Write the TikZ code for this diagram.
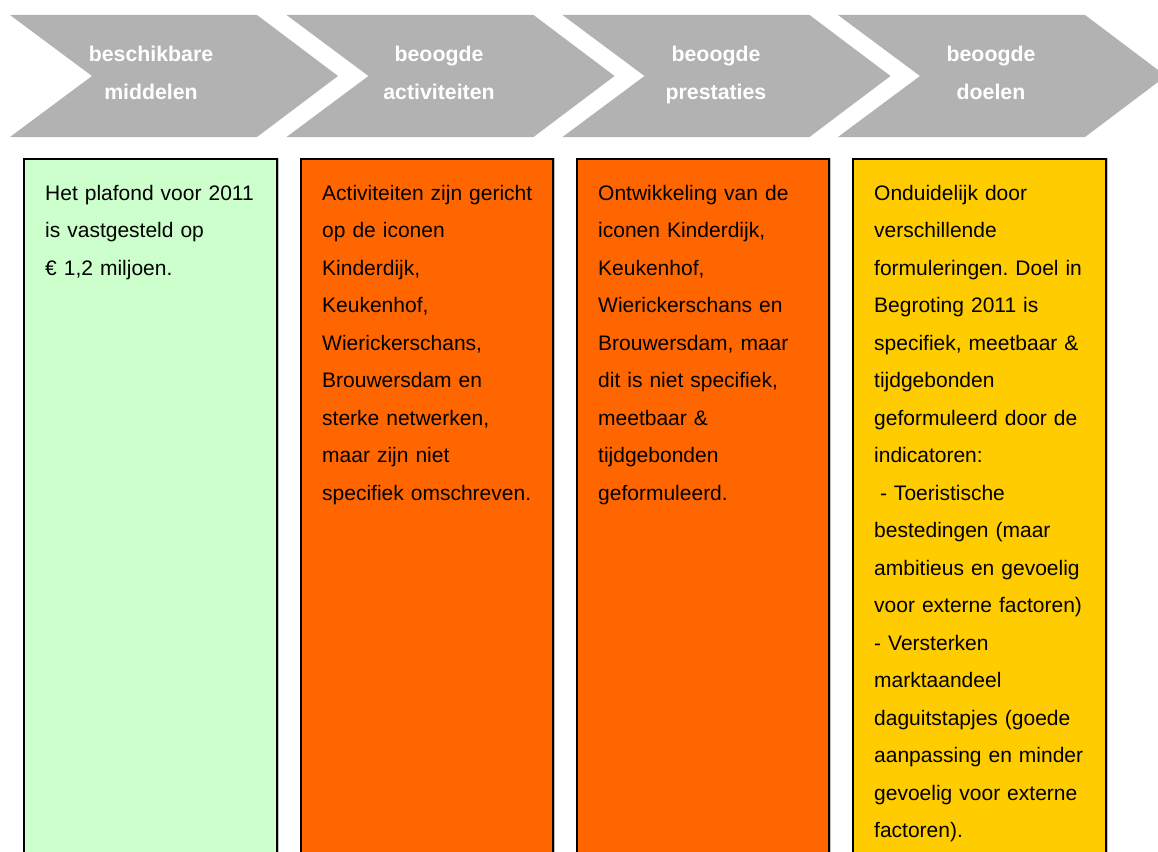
\documentclass[tikz,border=0pt]{standalone}
\usepackage{fontspec}
\setmainfont{Liberation Sans}
\frenchspacing
\definecolor{chevgray}{HTML}{B2B2B2}
\definecolor{boxgreen}{HTML}{CCFFCC}
\definecolor{boxorange}{HTML}{FF6600}
\definecolor{boxyellow}{HTML}{FFCC00}
\tikzset{
  chev/.style={fill=chevgray, draw=none},
  headtext/.style={text=white, font=\fontsize{21.3}{39}\selectfont\bfseries, text width=220pt, align=center, inner sep=0pt, anchor=base},
  colbox/.style={draw=black, line width=1.5pt},
  colshadow/.style={draw=black!25, line width=1pt},
  bodytext/.style={text=black, font=\fontsize{21}{37.5}\selectfont, text width=240pt, align=left, inner sep=0pt, anchor=base west},
}
\begin{document}
\begin{tikzpicture}[x=1pt,y=-1pt]
\useasboundingbox (0,0) rectangle (1158,851);
\clip (0,0) rectangle (1158,851);
\fill[white] (0,0) rectangle (1158,851);
% chevrons
\foreach \xo/\nm in {10/c1, 286.5/c2, 562.5/c3, 838/c4}{
  \fill[chev] (\xo,15) -- ++(247,0) -- ++(81,61) -- ++(-81,61) -- ++(-247,0) -- ++(82,-61) -- cycle;
}
\node[headtext] (h1) at (151,61) {beschikbare\\middelen};
\node[headtext] (h2) at (439,61) {beoogde\\activiteiten};
\node[headtext] (h3) at (716,61) {beoogde\\prestaties};
\node[headtext] (h4) at (991,61) {beoogde\\doelen};
% boxes
\foreach \l/\r/\c in {24/277/boxgreen, 301/553/boxorange, 577/829/boxorange, 853/1106/boxyellow}{
  \draw[colshadow] (\l+1.5,158) rectangle (\r+1.8,900);
  \draw[colbox, fill=\c] (\l,159) rectangle (\r,900);
}
\node[bodytext] (t1) at (45,200) {Het plafond voor 2011\\is vastgesteld op\\€ 1,2 miljoen.};
\node[bodytext] (t2) at (322,200) {Activiteiten zijn gericht\\op de iconen\\Kinderdijk,\\Keukenhof,\\Wierickerschans,\\Brouwersdam en\\sterke netwerken,\\maar zijn niet\\specifiek omschreven.};
\node[bodytext] (t3) at (598,200) {Ontwikkeling van de\\iconen Kinderdijk,\\Keukenhof,\\Wierickerschans en\\Brouwersdam, maar\\dit is niet specifiek,\\meetbaar \&\\tijdgebonden\\geformuleerd.};
\node[bodytext] (t4) at (874,200) {Onduidelijk door\\verschillende\\formuleringen. Doel in\\Begroting 2011 is\\specifiek, meetbaar \&\\tijdgebonden\\geformuleerd door de\\indicatoren:\\\hspace*{5.8pt}- Toeristische\\bestedingen (maar\\ambitieus en gevoelig\\voor externe factoren)\\- Versterken\\marktaandeel\\daguitstapjes (goede\\aanpassing en minder\\gevoelig voor externe\\factoren).};
\end{tikzpicture}
\end{document}
